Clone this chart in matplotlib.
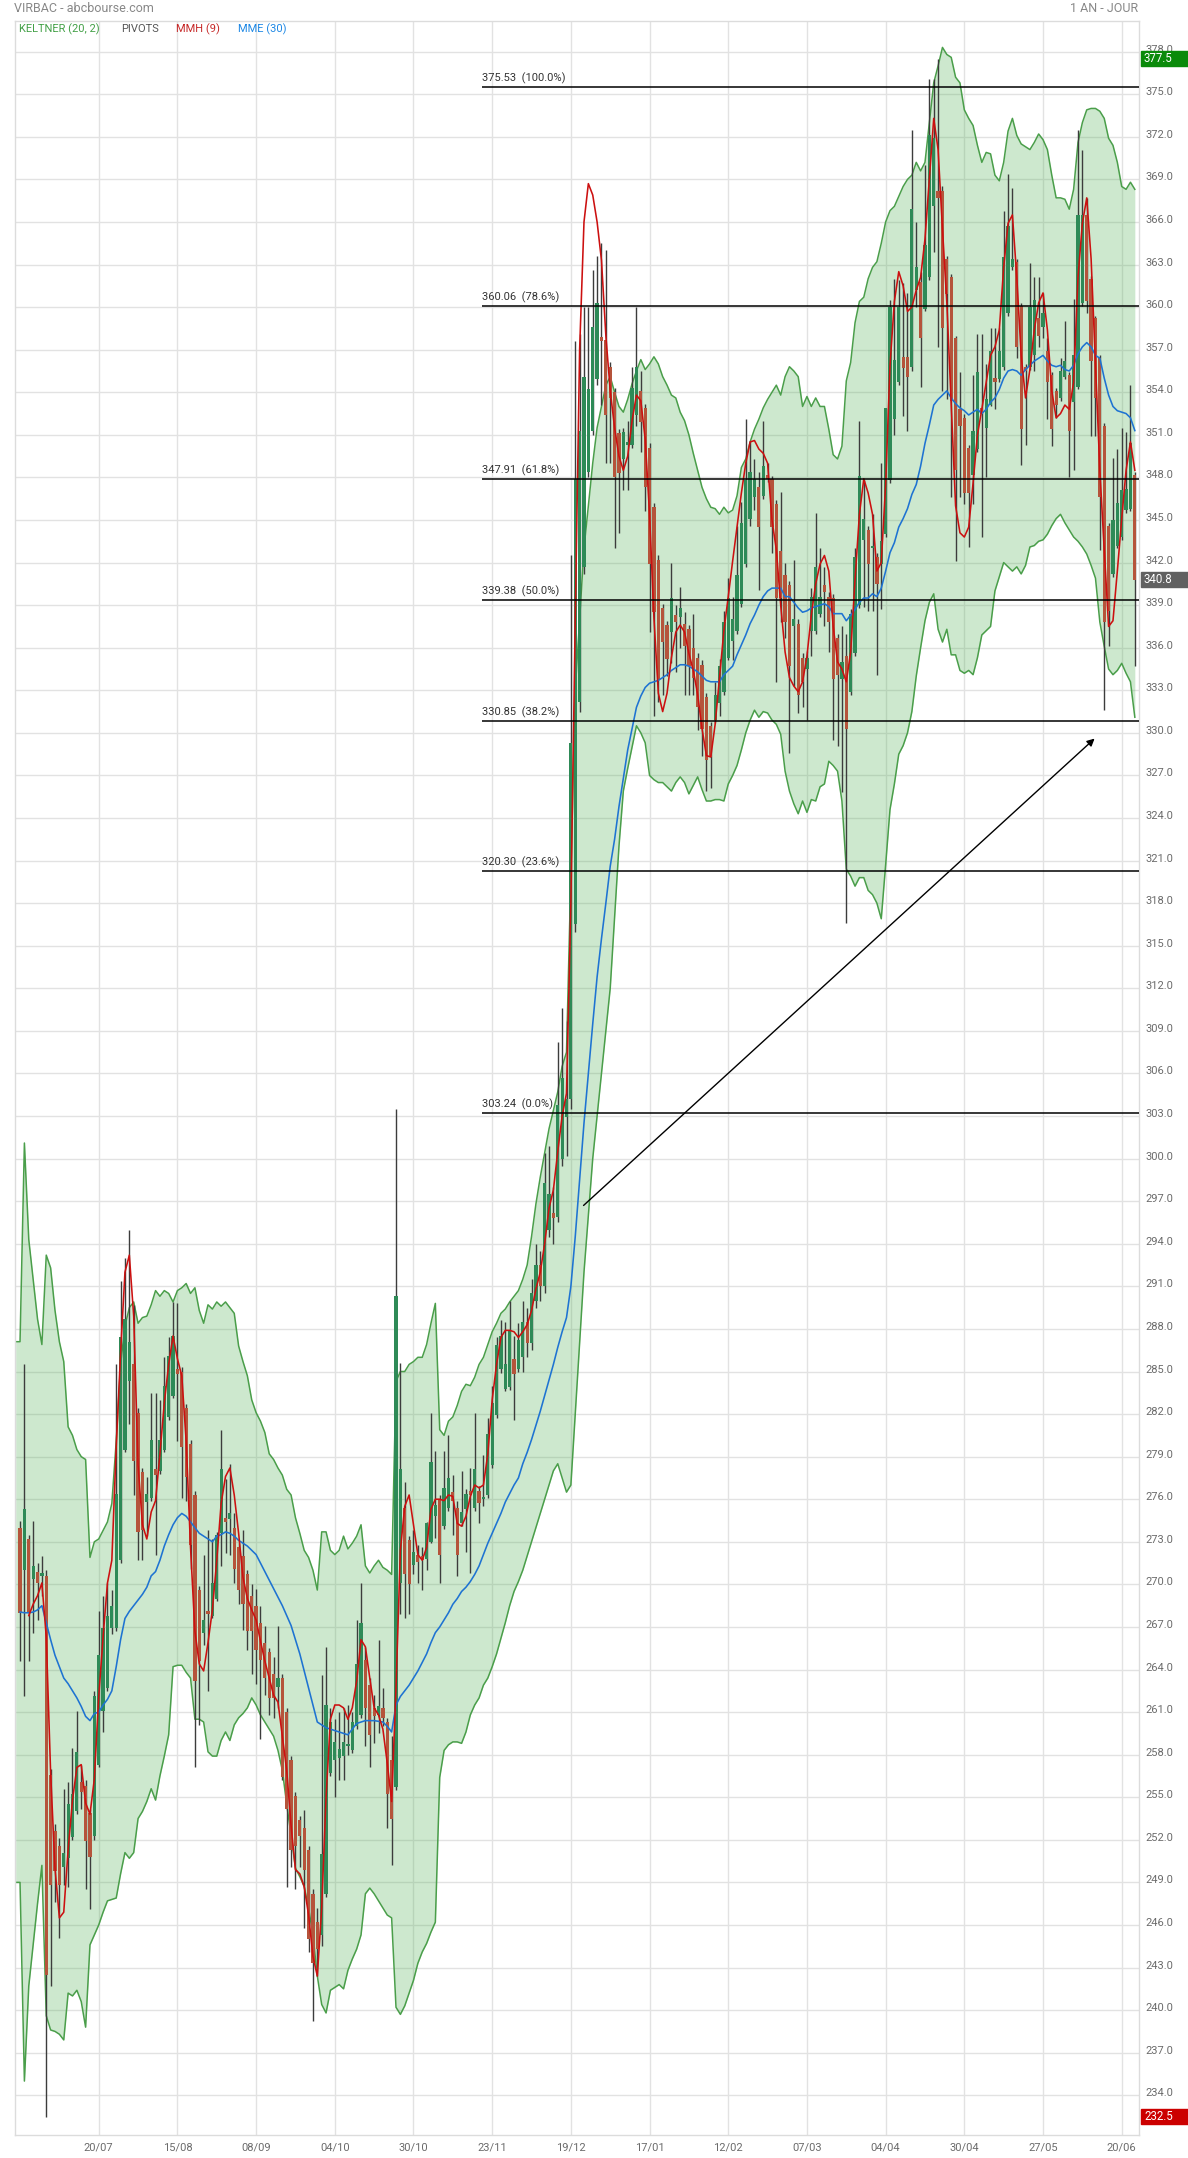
import numpy as np
import matplotlib
matplotlib.use('Agg')
import matplotlib.pyplot as plt
from matplotlib.transforms import blended_transform_factory, ScaledTranslation
from matplotlib.patches import Rectangle

plt.rcParams['font.family'] = ['Roboto', 'DejaVu Sans']

# ---- data (x = trading-day index) ----
date_labels = ['20/07', '15/08', '08/09', '04/10', '30/10', '23/11', '19/12',
               '17/01', '12/02', '07/03', '04/04', '30/04', '27/05', '20/06']
date_pos = [18, 36, 54, 72, 90, 108, 126, 144, 162, 180, 198, 216, 234, 252]

opens = [
    274.0, 271.0, 273.2, 270.4, 270.9, 270.6, 270.6, 256.6, 252.6, 251.6,
    250.1, 250.7, 252.2, 254.0, 256.1, 255.8, 253.9, 252.3, 257.3, 261.1,
    262.7, 266.9, 266.9, 271.7, 279.5, 284.3, 285.5, 282.1, 277.9, 275.8,
    276.1, 278.1, 278.0, 279.5, 281.8, 283.3, 285.2, 285.0, 282.4, 279.9,
    276.3, 269.6, 266.6, 268.1, 267.8, 269.0, 273.6, 274.7, 274.6, 274.0,
    272.6, 272.0, 270.7, 269.2, 268.5, 267.3, 265.9, 265.2, 263.7, 262.8,
    263.4, 261.0, 257.6, 255.1, 253.4, 252.8, 251.3, 248.2, 246.2, 245.3,
    248.2, 256.7, 257.6, 257.8, 257.9, 258.6, 258.3, 260.0, 260.8, 264.7,
    262.9, 261.3, 260.8, 261.3, 260.3, 257.6, 255.7, 270.1, 275.4, 273.1,
    271.4, 272.1, 272.0, 271.8, 273.0, 274.8, 276.0, 274.1, 275.4, 276.5,
    275.4, 274.3, 275.3, 276.6, 275.4, 276.6, 276.0, 276.3, 278.4, 281.9,
    285.2, 283.8, 283.9, 285.9, 285.2, 286.0, 288.5, 287.0, 290.0, 292.5,
    291.0, 295.0, 296.2, 295.9, 300.0, 302.9, 304.2, 316.5, 332.2, 341.7,
    348.4, 351.3, 354.9, 357.9, 357.7, 355.8, 354.0, 351.1, 349.3, 350.3,
    350.3, 352.4, 354.1, 352.9, 350.1, 345.9, 342.2, 338.8, 337.6, 337.1,
    338.3, 338.2, 337.7, 337.3, 336.0, 335.3, 334.8, 332.5, 330.5, 330.9,
    332.1, 332.9, 335.3, 336.5, 337.2, 339.1, 341.9, 345.1, 346.6, 347.3,
    346.7, 348.2, 347.9, 346.1, 342.8, 341.1, 340.4, 337.5, 337.7, 335.3,
    334.5, 337.2, 337.2, 338.4, 340.4, 339.6, 339.5, 336.7, 333.8, 335.4,
    332.9, 335.6, 339.0, 343.6, 344.3, 343.0, 342.4, 341.9, 344.0, 347.8,
    352.1, 354.7, 356.5, 356.5, 355.8, 361.2, 361.8, 359.9, 362.1, 367.1,
    368.2, 368.2, 363.4, 362.1, 357.8, 352.8, 352.2, 350.1, 348.2, 350.0,
    352.9, 351.5, 353.1, 355.0, 354.9, 355.8, 359.6, 362.8, 363.2, 360.1,
    355.8, 355.8, 356.6, 359.2, 358.6, 356.9, 355.2, 354.1, 353.6, 355.1,
    355.2, 353.3, 354.4, 360.3, 366.5, 362.0, 359.2, 356.4, 351.6, 344.6,
    341.2, 343.2, 343.8, 345.7, 345.8, 348.2]

closes = [
    268.0, 275.3, 268.0, 271.3, 270.1, 270.7, 242.5, 248.8, 249.8, 248.8,
    251.1, 254.5, 255.2, 258.2, 255.4, 251.9, 250.8, 262.1, 265.0, 266.9,
    267.8, 268.5, 276.4, 287.4, 288.7, 287.1, 278.7, 273.7, 273.8, 276.4,
    280.2, 277.7, 280.2, 284.0, 286.1, 287.5, 284.8, 279.7, 277.6, 272.8,
    263.2, 264.6, 267.5, 267.9, 270.1, 273.5, 278.1, 274.4, 275.0, 271.1,
    269.6, 268.6, 266.7, 266.7, 265.4, 264.7, 263.4, 262.0, 262.0, 263.4,
    256.4, 254.2, 251.3, 251.6, 252.3, 249.9, 245.0, 243.3, 244.3, 251.0,
    261.5, 260.3, 258.9, 258.4, 258.9, 258.7, 260.3, 264.4, 267.3, 261.3,
    259.4, 260.7, 261.4, 260.6, 255.2, 253.5, 290.3, 278.1, 270.7, 270.0,
    272.3, 271.6, 271.7, 274.3, 278.6, 275.6, 272.1, 276.8, 277.5, 275.9,
    272.1, 275.1, 276.4, 276.3, 278.1, 275.7, 276.1, 280.6, 282.8, 286.9,
    287.5, 285.5, 287.9, 284.8, 287.2, 288.5, 287.0, 290.5, 292.5, 291.0,
    298.3, 297.5, 295.8, 303.8, 305.7, 304.2, 329.3, 347.9, 351.3, 355.1,
    354.2, 358.6, 360.3, 357.6, 352.4, 353.6, 348.0, 348.3, 351.2, 350.4,
    354.3, 355.8, 351.9, 347.3, 341.9, 338.5, 333.7, 336.4, 335.2, 339.5,
    337.8, 338.8, 336.1, 334.7, 333.9, 331.8, 330.3, 328.1, 328.3, 332.7,
    334.7, 337.8, 339.5, 338.0, 341.1, 344.8, 347.8, 348.4, 347.9, 344.5,
    348.8, 347.9, 344.5, 339.5, 339.5, 337.8, 334.7, 338.0, 332.7, 333.6,
    335.3, 339.6, 341.7, 339.6, 339.9, 337.8, 333.8, 334.1, 335.0, 330.3,
    338.4, 342.4, 348.1, 345.1, 341.9, 343.1, 340.5, 343.5, 352.9, 360.0,
    356.3, 360.0, 355.7, 355.1, 366.9, 362.8, 357.8, 364.4, 372.1, 371.9,
    367.7, 358.5, 360.9, 353.4, 348.5, 351.6, 346.9, 346.9, 351.3, 355.4,
    352.5, 353.5, 356.9, 354.7, 356.9, 363.5, 365.7, 363.4, 357.2, 351.4,
    355.5, 360.0, 360.5, 358.0, 359.6, 354.7, 351.4, 353.1, 355.5, 356.2,
    351.3, 356.6, 366.5, 366.5, 360.4, 356.2, 353.6, 346.6, 337.8, 338.6,
    345.0, 346.2, 347.1, 347.2, 350.4, 340.8]

highs = [
    274.5, 285.5, 273.5, 274.5, 271.5, 272.0, 271.0, 257.0, 253.1, 252.1,
    255.6, 256.1, 258.5, 261.1, 257.3, 256.2, 254.2, 262.5, 268.1, 269.2,
    270.1, 269.6, 285.5, 291.4, 293.0, 295.0, 289.7, 282.4, 278.2, 277.6,
    283.5, 283.5, 283.0, 286.0, 287.4, 289.9, 289.8, 285.3, 282.7, 280.2,
    276.6, 269.9, 272.1, 273.8, 273.2, 273.7, 280.9, 277.4, 278.5, 275.0,
    272.9, 273.8, 271.0, 270.0, 269.7, 268.5, 267.1, 265.5, 264.9, 267.1,
    263.7, 261.3, 257.9, 255.4, 253.7, 254.1, 251.6, 248.5, 247.2, 263.6,
    265.6, 261.3, 260.5, 261.0, 261.3, 261.5, 261.0, 267.5, 270.1, 265.6,
    263.4, 262.2, 266.1, 262.7, 260.6, 259.3, 303.5, 285.6, 277.2, 273.4,
    273.8, 272.8, 272.6, 274.4, 282.1, 279.4, 276.3, 279.4, 280.5, 277.7,
    275.9, 278.0, 276.7, 278.2, 282.1, 276.9, 279.1, 281.7, 284.0, 287.4,
    288.6, 288.5, 290.0, 287.5, 288.4, 290.0, 289.5, 291.5, 294.0, 293.5,
    300.4, 300.9, 298.0, 308.2, 310.6, 309.7, 342.5, 357.6, 358.1, 360.0,
    360.0, 362.6, 363.6, 364.5, 364.0, 356.1, 354.3, 351.4, 351.5, 352.0,
    355.8, 360.0, 355.5, 353.2, 350.4, 346.2, 342.5, 339.1, 337.9, 342.0,
    339.0, 340.3, 338.5, 337.6, 338.4, 335.6, 335.1, 332.8, 330.8, 333.6,
    335.2, 338.6, 340.9, 339.6, 344.6, 346.3, 352.1, 350.6, 349.3, 348.4,
    352.0, 349.0, 348.1, 346.4, 347.0, 342.0, 340.7, 342.2, 338.0, 335.6,
    335.8, 340.2, 345.5, 343.0, 341.7, 339.9, 339.8, 337.0, 337.5, 337.0,
    338.7, 343.0, 352.0, 347.8, 344.6, 345.4, 342.7, 349.0, 352.9, 360.5,
    362.0, 361.9, 361.7, 361.0, 372.5, 366.0, 362.5, 370.0, 376.1, 376.1,
    377.5, 368.5, 363.6, 362.3, 358.0, 355.4, 352.5, 350.3, 355.2, 358.1,
    358.1, 356.0, 358.5, 358.5, 358.5, 366.8, 369.4, 368.4, 363.4, 360.3,
    356.0, 363.1, 362.1, 362.1, 361.0, 357.8, 355.4, 354.3, 356.4, 359.0,
    355.4, 360.6, 372.5, 371.1, 367.7, 362.2, 359.4, 356.6, 351.8, 344.8,
    349.4, 350.0, 351.5, 351.2, 354.5, 348.4]

lows = [
    264.6, 262.1, 264.6, 266.6, 267.5, 269.2, 232.5, 241.7, 247.6, 245.1,
    248.8, 248.7, 252.0, 253.8, 254.2, 248.5, 247.1, 252.0, 257.1, 259.6,
    262.5, 266.5, 266.7, 271.5, 279.3, 281.3, 276.3, 271.7, 271.7, 273.4,
    275.9, 272.1, 277.8, 279.3, 281.6, 283.1, 280.1, 276.1, 275.9, 271.1,
    257.1, 260.1, 265.7, 262.5, 267.6, 268.8, 271.3, 272.2, 272.1, 270.1,
    268.6, 266.8, 265.4, 263.7, 263.0, 259.1, 262.2, 260.8, 260.6, 261.3,
    256.2, 248.7, 250.1, 248.5, 250.1, 245.8, 244.1, 239.2, 242.4, 244.5,
    248.0, 256.5, 255.0, 256.2, 256.2, 258.0, 258.1, 259.8, 260.6, 258.6,
    257.1, 258.8, 259.5, 260.0, 252.8, 250.2, 255.5, 267.9, 267.6, 267.9,
    270.7, 270.1, 269.6, 271.0, 272.9, 273.3, 270.1, 273.9, 275.2, 273.5,
    270.6, 274.1, 272.3, 270.8, 275.2, 274.3, 275.5, 276.1, 278.2, 281.7,
    284.9, 283.6, 283.7, 281.6, 285.0, 285.0, 286.0, 286.5, 289.5, 290.0,
    290.5, 294.5, 294.0, 295.5, 299.5, 300.2, 303.5, 316.0, 331.5, 341.2,
    348.0, 351.0, 354.5, 353.1, 349.0, 349.0, 343.0, 344.1, 347.1, 347.1,
    350.1, 351.6, 349.8, 345.6, 337.1, 331.2, 332.2, 332.7, 334.0, 334.9,
    334.3, 336.0, 332.7, 332.7, 332.7, 330.2, 328.4, 325.9, 326.1, 330.7,
    331.2, 332.7, 335.1, 335.1, 337.0, 338.9, 341.7, 344.6, 345.7, 340.1,
    346.5, 347.7, 342.7, 333.6, 337.8, 336.7, 328.6, 333.3, 331.4, 331.8,
    330.9, 335.4, 337.0, 338.2, 337.5, 335.7, 329.5, 329.1, 325.8, 316.6,
    332.7, 335.4, 338.8, 338.9, 338.6, 338.6, 334.1, 338.7, 343.8, 347.6,
    351.0, 354.5, 352.3, 351.3, 355.5, 360.0, 354.4, 359.7, 361.9, 363.9,
    357.2, 354.1, 353.5, 346.6, 342.1, 346.6, 346.1, 343.1, 346.1, 349.8,
    343.8, 348.0, 353.0, 352.8, 354.7, 355.6, 359.4, 362.6, 356.4, 348.9,
    350.3, 355.6, 355.5, 357.2, 357.8, 352.1, 350.2, 352.2, 353.4, 354.9,
    348.0, 348.5, 354.2, 360.1, 359.6, 350.9, 350.9, 342.9, 331.6, 336.1,
    341.0, 343.0, 343.6, 345.5, 345.6, 334.7]

# Keltner (20, 2) bands, first value sits at the left border (index -1)
kelt_upper = [
    287.1, 287.1,
    301.1, 294.3, 291.5, 288.7, 286.9, 293.2, 292.3, 289.3, 287.1,
    285.7, 281.1, 280.5, 279.5, 279.0, 278.8, 271.9, 273.0, 273.2, 273.8,
    274.4, 275.7, 280.1, 285.5, 288.2, 289.5, 289.9, 288.4, 288.8, 288.9,
    289.7, 290.7, 290.3, 290.7, 290.5, 289.9, 290.7, 290.9, 291.2, 290.5,
    290.9, 289.3, 288.4, 289.7, 289.4, 289.9, 289.6, 289.9, 289.5, 289.1,
    286.8, 285.7, 284.7, 283.0, 282.1, 281.5, 280.7, 279.2, 278.8, 278.2,
    277.7, 276.7, 276.3, 274.7, 273.6, 272.4, 271.9, 271.0, 269.6, 273.7,
    273.7, 272.4, 272.1, 272.4, 273.4, 272.5, 272.9, 273.4, 274.2, 271.3,
    270.8, 271.3, 271.7, 271.2, 271.0, 270.7, 284.3, 285.0, 285.0, 285.5,
    285.7, 286.0, 286.0, 286.9, 288.4, 289.8, 280.9, 280.5, 281.5, 281.8,
    282.6, 283.6, 284.1, 284.0, 284.6, 285.5, 286.0, 286.9, 287.8, 288.4,
    289.1, 289.4, 289.9, 290.3, 290.7, 291.5, 292.5, 294.5, 296.8, 298.7,
    300.4, 302.1, 303.4, 304.7, 306.5, 307.5, 320.0, 333.0, 338.0, 343.0,
    346.0, 349.0, 351.5, 353.0, 354.5, 355.1, 354.0, 353.0, 352.6, 353.5,
    354.6, 355.5, 356.3, 355.6, 356.0, 356.5, 356.0, 355.1, 354.5, 353.8,
    353.6, 352.6, 352.0, 351.0, 349.7, 348.5, 347.3, 346.5, 345.9, 345.8,
    345.4, 345.9, 345.5, 345.7, 346.7, 348.7, 349.3, 350.5, 351.4, 352.1,
    352.9, 353.5, 354.0, 354.5, 353.8, 355.1, 355.8, 355.5, 355.1, 353.0,
    353.7, 353.0, 353.6, 353.0, 353.0, 351.4, 349.6, 349.3, 350.2, 354.8,
    356.1, 358.9, 360.4, 360.7, 362.0, 362.8, 363.2, 364.5, 366.0, 366.8,
    367.1, 367.8, 368.5, 369.0, 369.3, 370.2, 369.6, 370.2, 373.0, 375.8,
    377.0, 378.3, 377.8, 377.6, 376.2, 375.8, 373.9, 373.3, 372.8, 371.4,
    370.2, 370.9, 370.8, 369.3, 368.9, 370.2, 372.4, 373.3, 372.1, 371.5,
    371.3, 371.1, 371.6, 372.2, 371.8, 371.1, 369.3, 367.7, 367.7, 367.6,
    366.9, 368.3, 371.6, 373.0, 373.9, 374.0, 374.0, 373.8, 373.3, 371.9,
    371.4, 370.2, 368.5, 368.3, 368.8, 368.3]

kelt_lower = [
    249.0, 249.0,
    235.0, 241.7, 244.6, 247.5, 250.2, 239.6, 238.6, 238.5, 238.3,
    237.9, 241.2, 241.0, 241.4, 240.6, 238.8, 244.6, 245.3, 246.0, 246.9,
    247.7, 247.8, 247.9, 249.6, 251.1, 250.7, 251.1, 253.5, 254.0, 254.7,
    255.6, 254.8, 256.5, 257.9, 259.4, 264.2, 264.3, 264.3, 263.8, 263.4,
    260.5, 260.5, 260.3, 258.2, 257.9, 257.9, 259.0, 259.6, 259.0, 260.1,
    260.6, 260.9, 261.3, 262.0, 261.5, 260.8, 260.3, 259.8, 259.3, 258.3,
    256.9, 254.5, 252.3, 250.0, 249.4, 248.7, 247.2, 245.3, 242.4, 240.4,
    239.8, 241.4, 241.6, 241.8, 241.5, 242.8, 243.6, 244.3, 245.3, 248.2,
    248.6, 248.2, 247.7, 247.2, 246.7, 246.5, 240.2, 239.7, 240.3, 241.2,
    242.1, 243.3, 244.1, 244.7, 245.5, 246.2, 256.4, 258.3, 258.7, 258.9,
    258.9, 258.8, 259.6, 260.8, 261.5, 262.0, 262.9, 263.4, 264.2, 265.1,
    266.2, 267.3, 268.5, 269.5, 270.2, 271.0, 272.0, 273.0, 274.0, 275.0,
    276.0, 277.0, 278.0, 278.5, 277.5, 276.5, 277.0, 282.0, 287.0, 292.0,
    296.0, 300.0, 303.0, 306.0, 309.0, 312.0, 317.0, 322.0, 325.9, 327.5,
    329.0, 330.5, 330.0, 329.3, 327.0, 326.7, 326.5, 326.5, 326.2, 325.9,
    326.5, 326.9, 326.5, 325.7, 326.3, 326.9, 326.0, 325.2, 325.2, 325.3,
    325.3, 325.2, 326.4, 327.0, 327.7, 328.8, 330.0, 330.9, 331.6, 331.1,
    331.5, 331.4, 330.9, 330.6, 329.9, 327.3, 325.9, 325.0, 324.3, 325.2,
    324.4, 325.3, 325.2, 326.2, 326.4, 328.0, 327.7, 327.3, 325.2, 320.4,
    319.9, 319.2, 319.8, 319.8, 318.9, 318.6, 318.0, 316.9, 320.7, 324.6,
    326.4, 328.5, 329.1, 330.0, 331.5, 334.0, 336.0, 337.9, 339.2, 339.8,
    337.3, 336.4, 337.3, 335.5, 335.5, 334.4, 334.2, 334.4, 334.1, 335.3,
    336.9, 337.2, 337.5, 340.0, 341.0, 342.0, 341.7, 341.4, 341.7, 341.2,
    341.8, 343.1, 343.2, 343.5, 343.6, 344.0, 344.6, 345.1, 345.4, 344.8,
    344.3, 343.8, 343.5, 343.1, 342.6, 341.8, 340.9, 337.8, 336.1, 334.5,
    334.1, 334.4, 334.9, 334.2, 333.6, 331.1]

# MMH (9), red line
mmh = [
    np.nan, np.nan, 267.8, 268.6, 269.2, 270.1, 266.3, 256.7, 250.0, 246.5,
    246.9, 251.3, 254.8, 257.1, 257.3, 254.6, 253.8, 256.3, 262.1, 266.3,
    270.1, 271.7, 279.7, 286.3, 292.0, 293.2, 288.9, 278.4, 274.2, 273.2,
    275.1, 275.9, 279.2, 282.8, 285.5, 287.5, 285.9, 284.7, 280.1, 272.6,
    266.7, 264.4, 263.9, 265.9, 268.2, 271.7, 275.7, 277.6, 278.2, 276.3,
    273.6, 270.5, 269.0, 268.2, 267.5, 266.0, 264.6, 263.4, 262.2, 261.7,
    259.3, 256.9, 253.0, 249.9, 249.6, 248.7, 246.7, 243.8, 242.4, 247.2,
    255.0, 260.5, 261.5, 261.5, 261.3, 260.5, 261.3, 263.2, 266.1, 265.6,
    263.4, 261.3, 260.8, 259.8, 257.4, 254.7, 262.7, 272.4, 275.5, 276.3,
    274.2, 272.1, 271.7, 272.6, 275.3, 276.0, 276.0, 275.9, 276.3, 276.2,
    274.3, 274.1, 274.8, 276.2, 277.0, 276.8, 277.0, 279.2, 283.0, 285.5,
    287.4, 287.9, 287.9, 287.8, 287.4, 287.8, 288.3, 289.3, 290.8, 292.0,
    294.0, 296.5, 297.8, 300.5, 303.0, 304.6, 318.0, 338.0, 357.0, 366.0,
    368.7, 367.9, 366.0, 363.3, 358.0, 354.1, 351.5, 349.5, 348.5, 349.5,
    352.0, 353.8, 353.4, 350.7, 345.4, 338.1, 332.8, 331.5, 332.8, 335.3,
    337.1, 337.6, 337.1, 335.6, 334.4, 332.7, 330.3, 328.4, 328.3, 330.6,
    333.9, 337.2, 339.6, 342.1, 344.5, 346.9, 349.0, 350.5, 350.6, 350.0,
    349.7, 349.0, 345.0, 342.9, 339.0, 335.7, 333.9, 333.3, 332.9, 333.6,
    335.4, 338.3, 340.5, 341.9, 342.5, 341.4, 337.5, 335.0, 334.5, 333.6,
    335.7, 340.8, 345.4, 347.9, 346.9, 345.4, 341.4, 342.0, 347.5, 355.9,
    360.4, 362.5, 361.5, 359.7, 360.0, 361.2, 362.1, 364.8, 369.0, 373.3,
    371.1, 365.5, 360.3, 353.1, 346.0, 344.1, 343.8, 344.5, 347.6, 351.0,
    352.8, 354.7, 356.6, 357.2, 358.4, 362.8, 365.9, 366.5, 362.1, 356.6,
    353.6, 355.6, 358.4, 360.3, 361.0, 358.4, 354.1, 352.2, 352.5, 353.1,
    352.8, 354.7, 362.1, 365.9, 367.7, 363.4, 355.9, 348.5, 342.9, 337.5,
    337.9, 341.4, 345.1, 348.5, 350.5, 348.5]

# MME (30), blue line
mme = [
    268.05, 268.0, 268.0, 268.05, 268.2, 268.5, 267.3, 266.1, 265.0, 264.2,
    263.4, 263.0, 262.5, 262.0, 261.4, 260.7, 260.4, 260.9, 261.0, 261.5,
    261.9, 262.5, 264.2, 266.1, 267.6, 268.1, 268.5, 268.9, 269.3, 269.8,
    270.6, 270.9, 271.7, 272.7, 273.5, 274.2, 274.7, 275.0, 274.8, 274.4,
    274.0, 273.6, 273.4, 273.2, 273.0, 273.4, 273.5, 273.7, 273.6, 273.4,
    273.1, 272.9, 272.7, 272.4, 272.1, 271.5, 270.9, 270.3, 269.7, 269.1,
    268.5, 267.8, 267.1, 266.1, 265.1, 263.9, 262.7, 261.5, 260.3, 260.1,
    259.9, 259.8, 259.7, 259.6, 259.5, 259.4, 259.8, 260.2, 260.3, 260.4,
    260.4, 260.4, 260.35, 260.3, 260.0, 259.6, 261.5, 262.1, 262.5, 262.9,
    263.4, 263.9, 264.5, 265.1, 265.9, 266.6, 267.0, 267.5, 268.0, 268.6,
    269.0, 269.5, 269.8, 270.2, 270.7, 271.3, 272.1, 272.9, 273.6, 274.3,
    275.0, 275.8, 276.4, 277.0, 277.5, 278.5, 279.3, 280.2, 281.2, 282.2,
    283.3, 284.4, 285.5, 286.7, 287.8, 288.8, 291.0, 294.5, 298.5, 302.5,
    306.0, 309.5, 312.8, 315.5, 318.0, 320.6, 322.5, 324.8, 326.8, 328.8,
    330.3, 331.8, 332.6, 333.2, 333.5, 333.6, 333.7, 333.9, 334.1, 334.4,
    334.6, 334.8, 334.8, 334.7, 334.5, 334.3, 334.0, 333.7, 333.6, 333.6,
    333.6, 334.1, 334.4, 334.7, 335.5, 336.2, 336.9, 337.7, 338.3, 339.0,
    339.6, 340.0, 340.2, 340.2, 340.2, 339.6, 339.6, 339.2, 338.8, 338.5,
    338.6, 338.8, 338.9, 339.0, 339.1, 338.9, 338.4, 338.4, 338.4, 337.9,
    338.3, 338.7, 339.2, 339.5, 339.5, 339.8, 339.6, 340.2, 341.4, 342.7,
    343.4, 344.5, 345.1, 345.8, 346.8, 347.5, 348.8, 350.4, 351.7, 353.1,
    353.5, 353.8, 354.1, 353.6, 353.2, 352.9, 352.7, 352.4, 352.6, 352.8,
    352.5, 352.8, 353.3, 353.6, 354.2, 355.0, 355.5, 355.6, 355.5, 355.2,
    355.6, 355.9, 356.2, 356.4, 356.6, 356.2, 355.9, 355.8, 355.9, 355.6,
    355.5, 355.9, 356.7, 357.2, 357.5, 357.2, 356.6, 356.4, 355.0, 353.8,
    353.0, 352.7, 352.6, 352.5, 352.2, 351.3]

fib_levels = [375.53, 360.06, 347.91, 339.38, 330.85, 320.30, 303.24]
fib_pcts = ['100.0%', '78.6%', '61.8%', '50.0%', '38.2%', '23.6%', '0.0%']
fib_start = 105.7

arrow_tail = (128.9, 296.7)
arrow_head = (245.8, 329.6)

period_high = 377.5
period_low = 232.5
last_close = 340.8

# ---- figure ----
W, H = 1188, 2158
fig = plt.figure(figsize=(W / 100, H / 100), dpi=100)
fig.patch.set_facecolor('white')
ax = fig.add_axes([14.7 / W, 1 - 2135.3 / H, (1139.2 - 14.7) / W, (2135.3 - 21.3) / H])

x = np.arange(len(closes))
xb = np.arange(-1, len(closes))
o = np.array(opens); c = np.array(closes)
hi = np.array(highs); lo = np.array(lows)

ax.set_xlim(-1.22, 256.0)
ax.set_ylim(231.18, 380.14)

# grid
yt = np.arange(234, 379, 3)
ax.set_yticks(yt)
ax.set_yticklabels([f'{v:.1f}' for v in yt])
ax.set_xticks(date_pos)
ax.set_xticklabels(date_labels)
ax.grid(True, color='#e2e2e2', lw=1.0, zorder=0)
ax.set_axisbelow(True)
for s in ax.spines.values():
    s.set_color('#dcdcdc')
    s.set_linewidth(1.0)
ax.yaxis.tick_right()
ax.tick_params(axis='both', length=0, colors='#6b6b6b', labelsize=8)
ax.tick_params(axis='y', pad=4.5)
ax.tick_params(axis='x', pad=5)
# price labels sit a little above their grid line
lift = ScaledTranslation(0, 3 / 100, fig.dpi_scale_trans)
for lab in ax.get_yticklabels():
    lab.set_transform(lab.get_transform() + lift)

# keltner channel
ax.fill_between(xb, kelt_lower, kelt_upper, color='#4caf50', alpha=0.28, lw=0, zorder=1)
ax.plot(xb, kelt_upper, color='#4a9e4a', lw=1.1, zorder=2)
ax.plot(xb, kelt_lower, color='#4a9e4a', lw=1.1, zorder=2)

# candles
ax.vlines(x, lo, hi, color='#3c3c3c', lw=1.0, zorder=3)
up = c >= o
body = np.maximum(np.abs(c - o), 0.18)
bottom = np.minimum(o, c)
ax.bar(x[up], body[up], bottom=bottom[up], width=0.74, color='#2e8a57', lw=0, zorder=4)
ax.bar(x[~up], body[~up], bottom=bottom[~up], width=0.74, color='#b5543b', lw=0, zorder=4)

# moving averages
ax.plot(x, mme, color='#1e73d2', lw=1.15, zorder=5)
ax.plot(x, mmh, color='#cc1010', lw=1.15, zorder=6)

# fibonacci retracement
for lvl, pct in zip(fib_levels, fib_pcts):
    ax.plot([fib_start, 256.0], [lvl, lvl], color='black', lw=1.1, zorder=7,
            solid_capstyle='butt')
    ax.text(fib_start, lvl + 0.2, f'{lvl:.2f}  ({pct})', fontsize=8,
            color='#333333', ha='left', va='bottom', zorder=8)

ax.annotate('', xy=arrow_head, xytext=arrow_tail, zorder=8,
            arrowprops=dict(arrowstyle='-|>', color='black', lw=1.0,
                            mutation_scale=11, shrinkA=0, shrinkB=0))

# value tags on the price scale
tr = blended_transform_factory(fig.transFigure, ax.transData)
for val, col in [(period_high, '#0a8a0a'), (last_close, '#616161'), (period_low, '#cc0000')]:
    ax.add_patch(Rectangle((1140.7 / W, val - 0.54), 1 - 1140.7 / W, 1.08,
                           transform=tr, color=col, clip_on=False, zorder=10))
    ax.text(1144 / W, val, f'{val:.1f}', transform=tr, color='white', fontsize=8.3,
            ha='left', va='center', zorder=11, clip_on=False)

# header texts
fig.text(14 / W, 1 - 9 / H, 'VIRBAC - abcbourse.com', fontsize=9, color='#888888',
         ha='left', va='center')
fig.text(1138 / W, 1 - 9 / H, '1 AN - JOUR', fontsize=9, color='#888888',
         ha='right', va='center')
legend_items = [('KELTNER (20, 2)', '#43a047', 19.3), ('PIVOTS', '#555555', 120.7),
                ('MMH (9)', '#c62828', 176.0), ('MME (30)', '#1e88e5', 238.3)]
for txt, col, px in legend_items:
    fig.text(px / W, 1 - 29.5 / H, txt, fontsize=8, color=col, ha='left', va='center')

fig.savefig('out.png', dpi=100)
